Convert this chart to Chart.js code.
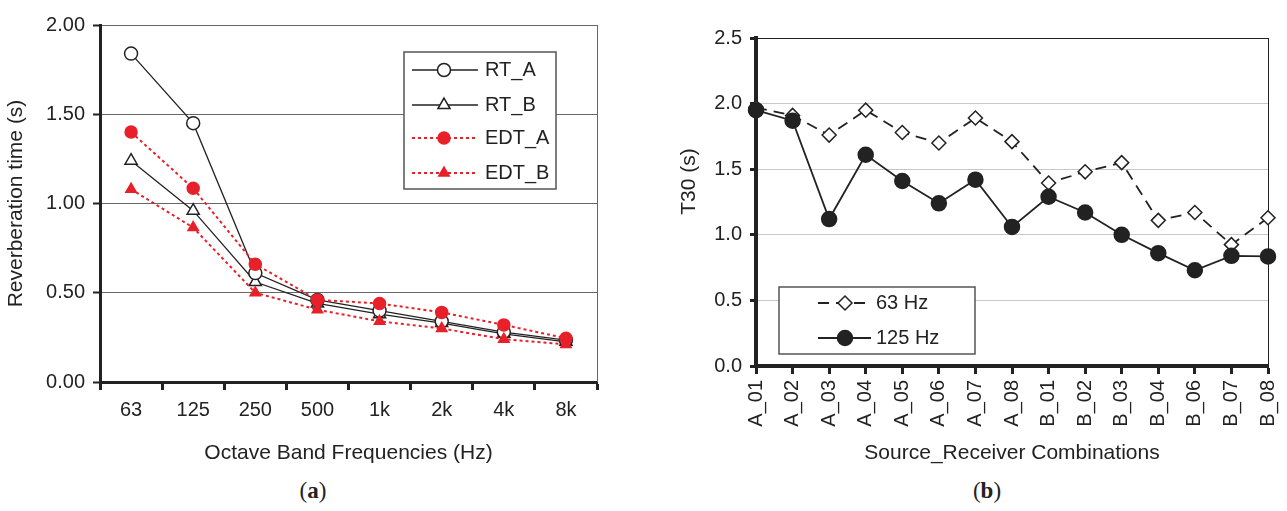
<!DOCTYPE html>
<html>
<head>
<meta charset="utf-8">
<script src="https://cdn.jsdelivr.net/npm/chart.js@4"></script>
<style>
body { margin: 0; background: #fff; width: 1287px; height: 511px; position: relative; overflow: hidden; }
canvas { position: absolute; top: 0; }
#chartA { left: 0; }
#chartB { left: 640px; }
.cap { position: absolute; top: 478px; font: 23px "Liberation Serif", "DejaVu Serif", serif; color: #222; transform: translateX(-50%); }
</style>
</head>
<body>
<canvas id="chartA" width="640" height="470"></canvas>
<canvas id="chartB" width="647" height="470"></canvas>
<div class="cap" style="left:313px">(<b>a</b>)</div>
<div class="cap" style="left:987px">(<b>b</b>)</div>
<script>
// (a) reverberation time per octave band
const bands = ['63', '125', '250', '500', '1k', '2k', '4k', '8k'];
const rtA = [1.84, 1.45, 0.61, 0.46, 0.40, 0.34, 0.28, 0.235];
const rtB = [1.24, 0.96, 0.56, 0.44, 0.38, 0.33, 0.27, 0.225];
const edtA = [1.40, 1.085, 0.66, 0.46, 0.44, 0.39, 0.32, 0.245];
const edtB = [1.08, 0.865, 0.50, 0.405, 0.34, 0.30, 0.24, 0.21];
const ticksA = [0, 0.5, 1, 1.5, 2];

// (b) T30 per source/receiver combination
const combos = ['A_01', 'A_02', 'A_03', 'A_04', 'A_05', 'A_06', 'A_07', 'A_08',
                'B_01', 'B_02', 'B_03', 'B_04', 'B_06', 'B_07', 'B_08'];
const hz63 = [1.97, 1.91, 1.76, 1.95, 1.78, 1.70, 1.89, 1.71, 1.395, 1.48, 1.55, 1.11, 1.17, 0.925, 1.13];
const hz125 = [1.95, 1.87, 1.12, 1.61, 1.41, 1.24, 1.42, 1.06, 1.29, 1.17, 1.00, 0.86, 0.73, 0.84, 0.835];
const ticksB = [0, 0.5, 1, 1.5, 2, 2.5];

const ink = '#222';
const red = '#e8202a';
const FONT = '"Liberation Sans", Arial, sans-serif';
Chart.defaults.font.family = FONT;
Chart.defaults.color = ink;

// right frame line + boxed legend drawn inside the plot
const frameLegend = {
  id: 'frameLegend',
  beforeDatasetsDraw(chart, args, opts) {
    const {ctx, chartArea: a} = chart;
    ctx.save();
    ctx.strokeStyle = opts.frameColor;
    ctx.lineWidth = 1;
    ctx.beginPath();
    ctx.moveTo(a.right + 0.5, a.top);
    ctx.lineTo(a.right + 0.5, a.bottom);
    ctx.stroke();
    ctx.restore();
  },
  afterDraw(chart, args, opts) {
    const ctx = chart.ctx;
    const [bx, by, bw, bh] = opts.box;
    ctx.save();
    ctx.fillStyle = '#fff';
    ctx.fillRect(bx, by, bw, bh);
    ctx.strokeStyle = '#555';
    ctx.lineWidth = 1.5;
    ctx.strokeRect(bx, by, bw, bh);
    opts.items.forEach(it => {
      const ds = chart.data.datasets[it.ds];
      ctx.beginPath();
      ctx.setLineDash(ds.borderDash || []);
      ctx.strokeStyle = ds.borderColor;
      ctx.lineWidth = ds.borderWidth;
      ctx.moveTo(opts.lineX[0], it.y);
      ctx.lineTo(opts.lineX[1], it.y);
      ctx.stroke();
      ctx.setLineDash([]);
      ctx.fillStyle = ds.pointBackgroundColor;
      ctx.strokeStyle = ds.pointBorderColor;
      ctx.lineWidth = ds.pointBorderWidth;
      Chart.helpers.drawPoint(ctx, {pointStyle: ds.pointStyle, radius: ds.pointRadius, borderWidth: ds.pointBorderWidth, rotation: 0}, opts.markerX, it.y);
      ctx.fillStyle = ink;
      ctx.font = '20px ' + FONT;
      ctx.textBaseline = 'middle';
      ctx.fillText(ds.label, opts.textX, it.y);
    });
    ctx.restore();
  }
};

function series(label, data, color, fill, style, radius, dash, width, order) {
  return {
    label, data, order,
    borderColor: color, borderWidth: width, borderDash: dash,
    pointStyle: style, pointRadius: radius, pointBorderWidth: 1.5,
    pointBackgroundColor: fill, pointBorderColor: color,
    tension: 0, fill: false, clip: false
  };
}

// (a)
const ctxA = document.getElementById('chartA').getContext('2d');
const chartA = new Chart(ctxA, {
  type: 'line',
  data: {
    labels: bands,
    datasets: [
      series('RT_A', rtA, ink, '#fff', 'circle', 6.5, [], 1.3, 1),
      series('RT_B', rtB, ink, '#fff', 'triangle', 7, [], 1.3, 1),
      series('EDT_A', edtA, red, red, 'circle', 6, [3, 3], 2, 0),
      series('EDT_B', edtB, red, red, 'triangle', 6, [3, 3], 2, 0)
    ]
  },
  options: {
    responsive: false,
    animation: false,
    layout: {padding: {left: 0, right: 43, top: 25, bottom: 0}},
    plugins: {
      legend: {display: false},
      tooltip: {enabled: false},
      frameLegend: {
        frameColor: '#666',
        box: [404, 52, 152, 137],
        lineX: [412, 478], markerX: 444, textX: 485,
        items: [{ds: 0, y: 70}, {ds: 1, y: 105}, {ds: 2, y: 138}, {ds: 3, y: 173}]
      }
    },
    scales: {
      x: {
        offset: true,
        grid: {offset: true, drawOnChartArea: false, tickLength: 8, tickColor: ink, tickWidth: 3},
        border: {color: ink, width: 3},
        ticks: {font: {size: 20}, color: ink, padding: 8, maxRotation: 0},
        title: {display: true, text: 'Octave Band Frequencies (Hz)', font: {size: 21}, color: ink, padding: {top: 8}},
        afterFit(s) { s.height = 88; }
      },
      y: {
        min: 0, max: 2,
        afterBuildTicks(s) { s.ticks = ticksA.map(v => ({value: v})); },
        ticks: {font: {size: 20}, color: ink, padding: 8, callback: v => v.toFixed(2)},
        grid: {color: '#666', lineWidth: 1, tickLength: 7, tickColor: ink, tickWidth: 2},
        border: {color: ink, width: 3},
        title: {display: true, text: 'Reverberation time (s)', font: {size: 21}, color: ink, padding: {top: 4}},
        afterFit(s) { s.width = 100; }
      }
    }
  },
  plugins: [frameLegend]
});

// (b)
const ctxB = document.getElementById('chartB').getContext('2d');
const chartB = new Chart(ctxB, {
  type: 'line',
  data: {
    labels: combos,
    datasets: [
      series('63 Hz', hz63, ink, '#fff', 'rectRot', 7, [11, 7], 1.8, 1),
      series('125 Hz', hz125, ink, ink, 'circle', 7.5, [], 1.8, 0)
    ]
  },
  options: {
    responsive: false,
    animation: false,
    layout: {padding: {left: 0, right: 19, top: 38, bottom: 0}},
    plugins: {
      legend: {display: false},
      tooltip: {enabled: false},
      frameLegend: {
        frameColor: ink,
        box: [139, 287, 196, 67],
        lineX: [178, 231], markerX: 205, textX: 236,
        items: [{ds: 0, y: 303}, {ds: 1, y: 338}]
      }
    },
    scales: {
      x: {
        offset: false,
        grid: {drawOnChartArea: false, tickLength: 8, tickColor: ink, tickWidth: 3},
        border: {color: ink, width: 4},
        ticks: {font: {size: 20}, color: ink, padding: 6, autoSkip: false, minRotation: 90, maxRotation: 90},
        title: {display: true, text: 'Source_Receiver Combinations', font: {size: 21}, color: ink, padding: {top: 9}},
        afterFit(s) { s.height = 104; s.paddingLeft = 0; s.paddingRight = 0; }
      },
      y: {
        min: 0, max: 2.5,
        afterBuildTicks(s) { s.ticks = ticksB.map(v => ({value: v})); },
        ticks: {font: {size: 20}, color: ink, padding: 8, callback: v => v.toFixed(1)},
        grid: {
          color: c => (c.tick && c.tick.value === 2.5) ? ink : '#c8c8c8',
          lineWidth: 1, tickLength: 6, tickColor: ink, tickWidth: 3
        },
        border: {color: ink, width: 4},
        title: {display: true, text: '       T30 (s)', font: {size: 21}, color: ink, padding: {top: 37}},
        afterFit(s) { s.width = 116; }
      }
    }
  },
  plugins: [frameLegend]
});
</script>
</body>
</html>
